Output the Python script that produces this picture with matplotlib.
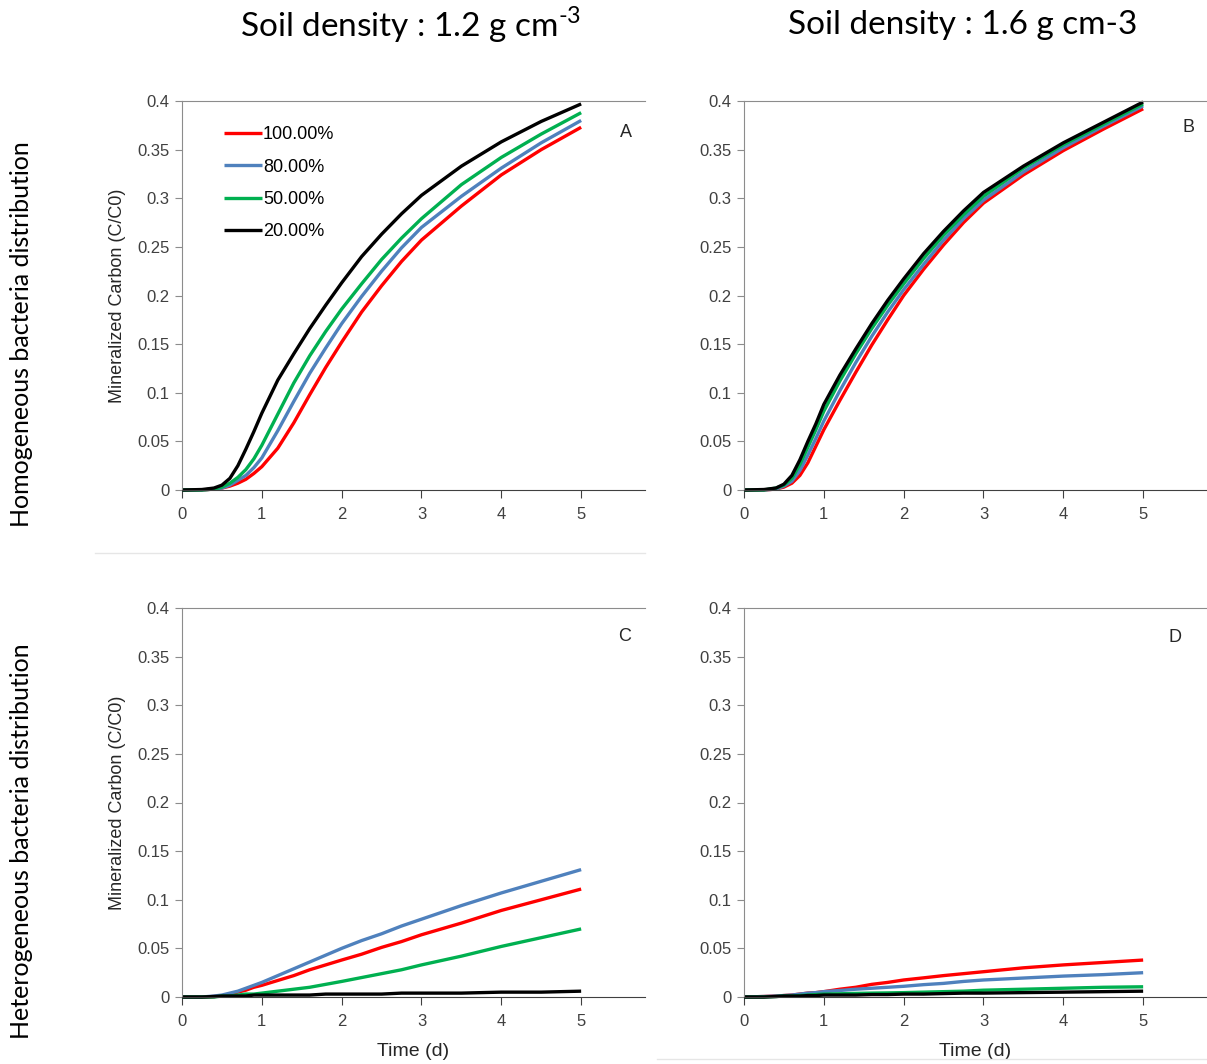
import numpy as np
import matplotlib
matplotlib.use("Agg")
import matplotlib.pyplot as plt
from matplotlib.lines import Line2D

plt.rcParams['font.family'] = ['Liberation Sans', 'DejaVu Sans']
plt.rcParams['mathtext.fontset'] = 'custom'
plt.rcParams['mathtext.rm'] = 'Lato'

# time (d)
t = [0, 0.25, 0.4, 0.5, 0.6, 0.7, 0.8, 0.9, 1.0, 1.2, 1.4, 1.6, 1.8, 2.0,
     2.25, 2.5, 2.75, 3.0, 3.5, 4.0, 4.5, 5.0]

labels = ['100.00%', '80.00%', '50.00%', '20.00%']
colors = ['#FF0000', '#4F81BD', '#00B050', '#000000']

# A: homogeneous, 1.2 g cm-3
a_100 = [0, 0, 0.001, 0.002, 0.004, 0.007, 0.011, 0.017, 0.024, 0.043, 0.069, 0.098, 0.126, 0.152,
         0.183, 0.210, 0.235, 0.257, 0.292, 0.324, 0.350, 0.373]
a_80 = [0, 0, 0.001, 0.002, 0.005, 0.010, 0.015, 0.023, 0.033, 0.061, 0.091, 0.120, 0.146, 0.171,
        0.199, 0.225, 0.249, 0.270, 0.302, 0.331, 0.357, 0.380]
a_50 = [0, 0, 0.001, 0.003, 0.007, 0.013, 0.021, 0.032, 0.046, 0.078, 0.110, 0.138, 0.163, 0.186,
        0.212, 0.237, 0.259, 0.279, 0.314, 0.342, 0.366, 0.388]
a_20 = [0, 0.0005, 0.002, 0.005, 0.012, 0.025, 0.042, 0.060, 0.079, 0.113, 0.140, 0.166, 0.190, 0.213,
        0.240, 0.263, 0.284, 0.303, 0.333, 0.358, 0.379, 0.397]

# B: homogeneous, 1.6 g cm-3
b_100 = [0, 0, 0.001, 0.003, 0.007, 0.015, 0.028, 0.045, 0.062, 0.092, 0.121, 0.149, 0.175, 0.200,
         0.227, 0.252, 0.275, 0.295, 0.324, 0.349, 0.371, 0.392]
b_80 = [0, 0, 0.001, 0.004, 0.009, 0.020, 0.036, 0.053, 0.071, 0.102, 0.131, 0.158, 0.183, 0.206,
        0.232, 0.257, 0.279, 0.298, 0.327, 0.352, 0.374, 0.395]
b_50 = [0, 0, 0.002, 0.005, 0.012, 0.026, 0.044, 0.062, 0.081, 0.112, 0.140, 0.166, 0.190, 0.212,
        0.238, 0.262, 0.283, 0.302, 0.331, 0.355, 0.376, 0.397]
b_20 = [0, 0.0005, 0.002, 0.006, 0.015, 0.031, 0.050, 0.068, 0.088, 0.118, 0.145, 0.171, 0.195, 0.217,
        0.243, 0.266, 0.287, 0.306, 0.333, 0.357, 0.378, 0.399]

# C: heterogeneous, 1.2 g cm-3
c_100 = [0, 0, 0.0005, 0.001, 0.003, 0.005, 0.007, 0.010, 0.012, 0.017, 0.022, 0.028, 0.033, 0.038,
         0.044, 0.051, 0.057, 0.064, 0.076, 0.089, 0.100, 0.111]
c_80 = [0, 0, 0.001, 0.002, 0.004, 0.006, 0.009, 0.012, 0.015, 0.022, 0.029, 0.036, 0.043, 0.050,
        0.058, 0.065, 0.073, 0.080, 0.094, 0.107, 0.119, 0.131]
c_50 = [0, 0, 0, 0.001, 0.001, 0.002, 0.003, 0.003, 0.004, 0.006, 0.008, 0.010, 0.013, 0.016,
        0.020, 0.024, 0.028, 0.033, 0.042, 0.052, 0.061, 0.070]
c_20 = [0, 0, 0.0005, 0.001, 0.001, 0.001, 0.001, 0.002, 0.002, 0.002, 0.002, 0.002, 0.003, 0.003,
        0.003, 0.003, 0.004, 0.004, 0.004, 0.005, 0.005, 0.006]

# D: heterogeneous, 1.6 g cm-3
d_100 = [0, 0.0005, 0.001, 0.0015, 0.002, 0.003, 0.004, 0.0045, 0.0055, 0.008, 0.010, 0.013, 0.015, 0.0175,
         0.0197, 0.022, 0.024, 0.026, 0.030, 0.033, 0.0355, 0.038]
d_80 = [0, 0.0005, 0.001, 0.0015, 0.002, 0.003, 0.004, 0.0045, 0.0055, 0.0067, 0.008, 0.009, 0.010, 0.011,
        0.0127, 0.014, 0.016, 0.0175, 0.0195, 0.0215, 0.023, 0.025]
d_50 = [0, 0, 0.0005, 0.001, 0.001, 0.0015, 0.002, 0.0025, 0.003, 0.0033, 0.0037, 0.004, 0.0042, 0.0045,
        0.005, 0.0055, 0.006, 0.007, 0.008, 0.009, 0.010, 0.0105]
d_20 = [0, 0, 0.0005, 0.001, 0.001, 0.001, 0.0015, 0.0015, 0.002, 0.002, 0.002, 0.0025, 0.0025, 0.003,
        0.003, 0.0035, 0.004, 0.004, 0.0045, 0.005, 0.0055, 0.006]

yticks = [0, 0.05, 0.1, 0.15, 0.2, 0.25, 0.3, 0.35, 0.4]
ytick_labels = ['0', '0.05', '0.1', '0.15', '0.2', '0.25', '0.3', '0.35', '0.4']
xticks = [0, 1, 2, 3, 4, 5]

fig = plt.figure(figsize=(12.07, 10.64), dpi=100)

W, H = 1207, 1064
def rect(left, top, right, bottom):
    return [left / W, 1 - bottom / H, (right - left) / W, (bottom - top) / H]

ax_a = fig.add_axes(rect(182, 101, 645, 490))
ax_b = fig.add_axes(rect(744, 101, 1207, 490))
ax_c = fig.add_axes(rect(182, 608, 645, 997))
ax_d = fig.add_axes(rect(744, 608, 1207, 997))

panels = [
    (ax_a, [a_100, a_80, a_50, a_20], 'A', (0.958, 0.92)),
    (ax_b, [b_100, b_80, b_50, b_20], 'B', (0.960, 0.933)),
    (ax_c, [c_100, c_80, c_50, c_20], 'C', (0.956, 0.928)),
    (ax_d, [d_100, d_80, d_50, d_20], 'D', (0.930, 0.923)),
]

for ax, series, tag, pos in panels:
    for y, c, lab in zip(series, colors, labels):
        ax.plot(t, y, color=c, lw=2.4, label=lab, clip_on=False, solid_capstyle='butt')
    ax.set_xlim(0, 5.8)
    ax.set_ylim(0, 0.4)
    ax.set_xticks(xticks)
    ax.set_yticks(yticks)
    ax.set_yticklabels(ytick_labels)
    ax.spines['right'].set_visible(False)
    ax.spines['top'].set_color('#8c8c8c')
    ax.spines['left'].set_color('#8c8c8c')
    ax.spines['bottom'].set_color('#404040')
    ax.tick_params(axis='y', length=5, color='#8c8c8c', labelsize=12, labelcolor='#404040', pad=4)
    ax.tick_params(axis='x', length=6, color='#404040', labelsize=12, labelcolor='#404040', pad=6)
    ax.text(pos[0], pos[1], tag, transform=ax.transAxes, fontsize=13,
            color='#262626', ha='center', va='center')

for ax in (ax_a, ax_c):
    ax.set_ylabel('Mineralized Carbon (C/C0)', fontsize=13, color='#262626')
    ax.yaxis.set_label_coords(-0.12, 0.5)
for ax in (ax_c, ax_d):
    ax.set_xlabel('Time (d)', fontsize=14, color='#262626', labelpad=10)

ax_a.legend(loc='upper left', bbox_to_anchor=(0.091, 0.935), frameon=False,
            fontsize=13, handlelength=2.1, handletextpad=0.05,
            labelspacing=0.85, borderpad=0, borderaxespad=0)

title_font = ['Lato', 'DejaVu Sans']
fig.text(411 / W, 1 - 25 / H, r'Soil density : 1.2 g cm$^{\text{-3}}$',
         fontsize=24, family=title_font, ha='center', va='center')
fig.text(963 / W, 1 - 25 / H, 'Soil density : 1.6 g cm-3',
         fontsize=24, family=title_font, ha='center', va='center')
fig.text(22 / W, 1 - 334 / H, 'Homogeneous bacteria distribution', rotation=90,
         fontsize=18, family=title_font, ha='center', va='center')
fig.text(22 / W, 1 - 841 / H, 'Heterogeneous bacteria distribution', rotation=90,
         fontsize=18, family=title_font, ha='center', va='center')

# faint separator lines
fig.add_artist(Line2D([95 / W, 645 / W], [1 - 553 / H, 1 - 553 / H], color='#e6e6e6', lw=1))
fig.add_artist(Line2D([657 / W, 1.0], [1 - 1059 / H, 1 - 1059 / H], color='#e6e6e6', lw=1))

fig.savefig('out.png', dpi=100)
